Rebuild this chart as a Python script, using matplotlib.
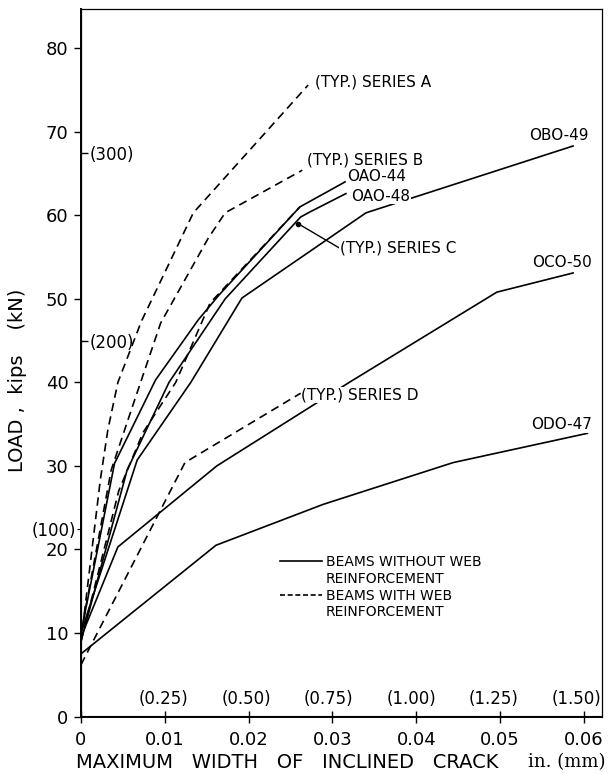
import matplotlib
matplotlib.use("Agg")
import matplotlib.pyplot as plt
from matplotlib.lines import Line2D

# ---------------- data (crack width in inches, load in kips) ----------------
a_x = [0, 0.0023, 0.0032, 0.0044, 0.0072, 0.0134, 0.0271]
a_y = [9.0, 28.3, 34.3, 40.0, 47.3, 60.3, 75.6]

b_x = [0, 0.0036, 0.0060, 0.0095, 0.0152, 0.0172, 0.0264]
b_y = [10.0, 29.5, 36.7, 47.1, 57.3, 60.3, 65.4]

c_x = [0, 0.0045, 0.0074, 0.0113, 0.0154, 0.0261]
c_y = [9.0, 27.0, 34.0, 40.0, 49.5, 61.0]

d_x = [0, 0.0124, 0.0262]
d_y = [6.2, 30.4, 38.7]

oao44_x = [0, 0.0040, 0.0089, 0.0140, 0.0165, 0.0261, 0.0315]
oao44_y = [10.0, 30.3, 40.3, 47.5, 50.5, 61.0, 64.0]

oao48_x = [0, 0.0055, 0.0105, 0.0172, 0.0262, 0.0273, 0.0316]
oao48_y = [9.0, 29.5, 40.0, 50.0, 59.8, 60.4, 62.6]

obo49_x = [0, 0.0067, 0.0131, 0.0192, 0.0340, 0.0587]
obo49_y = [10.0, 30.7, 40.0, 50.1, 60.3, 68.3]

oco50_x = [0, 0.0044, 0.0162, 0.0320, 0.0496, 0.0587]
oco50_y = [9.5, 20.3, 30.0, 40.0, 50.8, 53.1]

odo47_x = [0, 0.0161, 0.0289, 0.0444, 0.0604]
odo47_y = [7.5, 20.5, 25.4, 30.4, 33.9]

# curve labels
lab_text = ["(TYP.) SERIES A", "(TYP.) SERIES B", "OAO-44", "OAO-48", "OBO-49",
            "(TYP.) SERIES C", "OCO-50", "(TYP.) SERIES D", "ODO-47"]
lab_x = [0.0279, 0.0270, 0.0318, 0.0322, 0.0605, 0.0309, 0.0610, 0.0263, 0.0610]
lab_y = [76.0, 66.6, 64.6, 62.3, 69.6, 56.1, 54.3, 38.5, 34.9]
lab_ha = ["left", "left", "left", "left", "right", "left", "right", "left", "right"]
leader_c_xy = (0.0259, 59.0)

# axis ticks
y_ticks = [0, 10, 20, 30, 40, 50, 60, 70, 80]
x_ticks = [0, 0.01, 0.02, 0.03, 0.04, 0.05, 0.06]
x_tick_labels = ["0", "0.01", "0.02", "0.03", "0.04", "0.05", "0.06"]
mm_ticks = [0.25, 0.50, 0.75, 1.00, 1.25, 1.50]
mm_labels = ["(0.25)", "(0.50)", "(0.75)", "(1.00)", "(1.25)", "(1.50)"]
kn_outer = [100]
kn_inner = [200, 300]

KIP_TO_KN = 4.448
IN_TO_MM = 25.4

# ---------------- figure ----------------
W, H = 611, 773
fig = plt.figure(figsize=(W / 100, H / 100), dpi=100)
ax = fig.add_axes([81 / W, 1 - 716.5 / H, (602 - 81) / W, (716.5 - 9) / H])

solid = dict(color="black", lw=1.2, solid_joinstyle="miter")
dashed = dict(color="black", lw=1.2, linestyle=(0, (5, 3.2)))

for xs, ys in [(a_x, a_y), (b_x, b_y), (c_x, c_y), (d_x, d_y)]:
    ax.plot(xs, ys, **dashed)
for xs, ys in [(oao44_x, oao44_y), (oao48_x, oao48_y), (obo49_x, obo49_y),
               (oco50_x, oco50_y), (odo47_x, odo47_y)]:
    ax.plot(xs, ys, **solid)

for t, x, y, ha in zip(lab_text, lab_x, lab_y, lab_ha):
    ax.text(x, y, t, ha=ha, va="center", fontsize=11, zorder=5,
            bbox=dict(fc="white", ec="none", pad=0.6))

ci = lab_text.index("(TYP.) SERIES C")
ax.annotate("", xy=leader_c_xy, xytext=(lab_x[ci] - 0.0001, lab_y[ci]),
            arrowprops=dict(arrowstyle="-", lw=1.0, color="black",
                            shrinkA=0, shrinkB=0))
ax.plot([leader_c_xy[0]], [leader_c_xy[1]], "o", color="black", ms=3)

ax.set_xlim(0, 0.06215)
ax.set_ylim(0, 84.7)

ax.set_yticks(y_ticks)
ax.set_yticklabels([str(v) for v in y_ticks])
ax.set_xticks(x_ticks)
ax.set_xticklabels(x_tick_labels)
ax.tick_params(axis="y", direction="out", length=5, width=1, labelsize=13, pad=4)
ax.tick_params(axis="x", direction="inout", length=9, width=1, labelsize=13, pad=6)

for s in ["left", "bottom"]:
    ax.spines[s].set_linewidth(1.4)
for s in ["top", "right"]:
    ax.spines[s].set_linewidth(0.9)

# secondary mm axis (labels above the x-axis, inside the plot)
secx = ax.secondary_xaxis(0, functions=(lambda v: v * IN_TO_MM, lambda v: v / IN_TO_MM))
secx.set_alignment("top")
secx.set_ticks(mm_ticks, labels=mm_labels)
secx.tick_params(length=0, pad=6, labelsize=12)

# kN ticks: (100) outside on the left, (200), (300) inside
secl = ax.secondary_yaxis("left", functions=(lambda v: v * KIP_TO_KN, lambda v: v / KIP_TO_KN))
secl.set_ticks(kn_outer, labels=["(%d)" % v for v in kn_outer])
secl.tick_params(length=3, width=0.8, pad=0.5, labelsize=12)

seci = ax.secondary_yaxis(0, functions=(lambda v: v * KIP_TO_KN, lambda v: v / KIP_TO_KN))
seci.set_alignment("right")
seci.set_ticks(kn_inner, labels=["(%d)" % v for v in kn_inner])
seci.tick_params(direction="out", length=5, width=1, pad=1.5, labelsize=12)

# legend
h_solid = Line2D([], [], **solid)
h_dash = Line2D([], [], color="black", lw=1.2, linestyle=(0, (3, 1.6)))
h_blank = Line2D([], [], color="none")
ax.legend(handles=[h_solid, h_blank, h_dash, h_blank],
          labels=["BEAMS WITHOUT WEB", "REINFORCEMENT", "BEAMS WITH WEB", "REINFORCEMENT"],
          loc="upper left", bbox_to_anchor=((280 - 81) / 521, (716.5 - 555) / 707.5),
          frameon=False, fontsize=10, handlelength=3.0, handletextpad=0.3,
          labelspacing=0.2, borderpad=0, borderaxespad=0)

fig.text(287 / W, 1 - 762 / H, "MAXIMUM   WIDTH   OF   INCLINED   CRACK",
         fontsize=14, ha="center", va="center")
fig.text(567 / W, 1 - 762 / H, "in. (mm)", family="DejaVu Serif",
         fontsize=13, ha="center", va="center")
fig.text(18 / W, 1 - 380 / H, "LOAD ,  kips    (kN)", rotation=90,
         fontsize=14, ha="center", va="center")

fig.savefig("out.png", dpi=100)
